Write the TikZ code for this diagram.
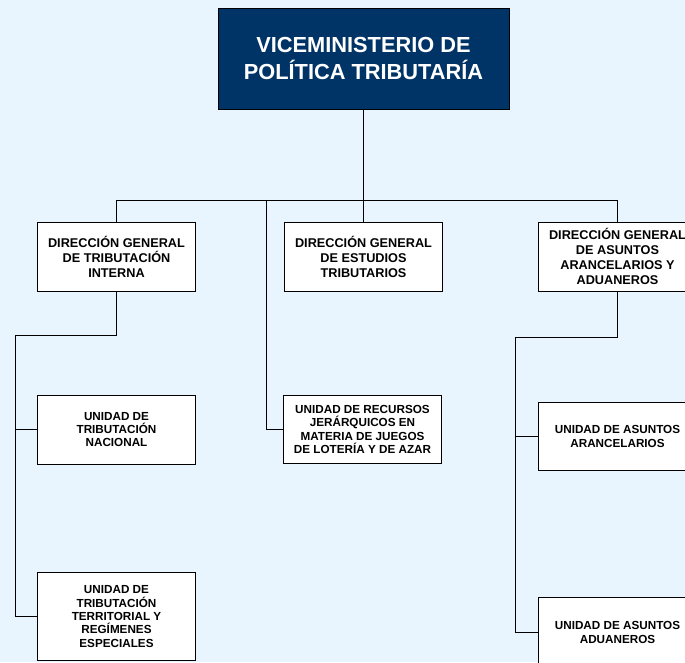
\documentclass[tikz,border=0pt]{standalone}
\usepackage{fontspec}
\setmainfont{Liberation Sans}
\usepackage{xcolor}
\definecolor{fondo}{RGB}{232,244,254}
\definecolor{marino}{RGB}{0,51,102}

\begin{document}
\begin{tikzpicture}[x=1pt, y=-1pt, line width=1pt,
  jefe/.style = {draw=black, fill=marino, text=white, align=center, inner sep=0pt,
    minimum width=291pt, minimum height=101pt, font=\bfseries\fontsize{21.8}{27}\selectfont},
  dgbox/.style = {draw=black, fill=white, align=center, inner sep=0pt,
    minimum width=158pt, minimum height=69pt, font=\bfseries\fontsize{12.7}{15}\selectfont},
  unibox/.style = {draw=black, fill=white, align=center, inner sep=0pt,
    minimum width=158pt, minimum height=69pt, font=\bfseries\fontsize{11.7}{13.3}\selectfont}]
\useasboundingbox (0,0) rectangle (685,662);
\fill[fondo] (0,0) rectangle (685,662);
\clip (0,0) rectangle (685,662);

\node[jefe] (vm) at (363.5,58.5) {VICEMINISTERIO DE\\POLÍTICA TRIBUTARÍA};

\node[dgbox] (dgti) at (116.5,256.5) {DIRECCIÓN GENERAL\\DE TRIBUTACIÓN\\INTERNA};
\node[dgbox] (dget) at (363.5,256.5) {DIRECCIÓN GENERAL\\DE ESTUDIOS\\TRIBUTARIOS};
\node[dgbox] (dgaa) at (617.5,256.5) {DIRECCIÓN GENERAL\\DE ASUNTOS\\ARANCELARIOS Y\\ADUANEROS};

\node[unibox] (utn) at (116.5,429.5) {UNIDAD DE\\TRIBUTACIÓN\\NACIONAL};
\node[unibox, minimum height=68pt] (urj) at (362.5,429.5) {UNIDAD DE RECURSOS\\JERÁRQUICOS EN\\MATERIA DE JUEGOS\\DE LOTERÍA Y DE AZAR};
\node[unibox, minimum height=68pt] (uaa) at (617.5,436.5) {UNIDAD DE ASUNTOS\\ARANCELARIOS};
\node[unibox, minimum height=88pt] (utt) at (116.5,616.5) {UNIDAD DE\\TRIBUTACIÓN\\TERRITORIAL Y\\REGÍMENES\\ESPECIALES};
\node[unibox, minimum height=70pt] (uad) at (617.5,632.5) {UNIDAD DE ASUNTOS\\ADUANEROS};

\coordinate (hub) at (363.5,200.5);
\coordinate (rama) at (266.5,200.5);
\coordinate (izq) at (15.5,335.5);
\coordinate (der) at (515.5,337.5);

\draw (vm.south) -- (dget.north);
\draw (dgti.north) |- (hub) -| (dgaa.north);
\draw (rama) |- (urj.west);
\draw (dgti.south) |- (izq) |- (utt.west);
\draw (izq |- utn.west) -- (utn.west);
\draw (dgaa.south) |- (der) |- (uad.west);
\draw (der |- uaa.west) -- (uaa.west);
\end{tikzpicture}
\end{document}
